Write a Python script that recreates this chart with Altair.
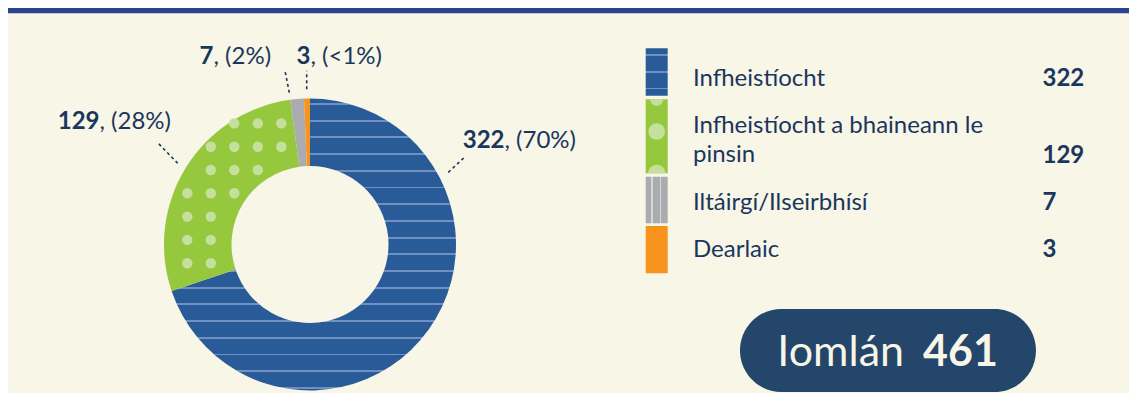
import math
import numpy as np
import pandas as pd
import altair as alt

# ---------------- data ----------------
categories = ["Infheistíocht", "Infheistíocht a bhaineann le pinsin",
              "Iltáirgí/Ilseirbhísí", "Dearlaic"]
legend_labels = ["Infheistíocht", "Infheistíocht a bhaineann le\npinsin",
                 "Iltáirgí/Ilseirbhísí", "Dearlaic"]
values = [322, 129, 7, 3]
pct_labels = [", (70%)", ", (28%)", ", (2%)", ", (<1%)"]
total_label = "Iomlán"
total_value = 461

# ---------------- styles ----------------
colors = ["#2A5B99", "#95C83D", "#AAACAF", "#F7941E"]
STRIPE_BLUE = "#6F90C0"
DOT_GREEN = "#C5E09C"
STRIPE_GRAY = "#D6D7D8"
NAVY = "#1B365D"
PILL = "#24466A"
BG = "#F7F6E7"
TOPBAR = "#2B4391"
FONT = "Lato"

# ---------------- layout (page pixels) ----------------
ORIGIN = 8
W, H = 1121, 385
CX, CY = 310, 244.5
R_OUT, R_IN = 146, 78.5
split_x = [504.5, 99.5, 213.5, 310.5]
label_base = [148.3, 129.0, 64.3, 64.3]
leader_from = [(448.3, 172.3), (177.7, 163.3), (289.3, 92.7), (306.7, 89.3)]
leader_to = [(464.0, 157.7), (158.3, 143.3), (285.0, 70.7), (306.7, 70.7)]
sw_x = (645.7, 667.7)
sw_top = [48.3, 99.3, 176.7, 226.0]
sw_bot = [95.7, 173.3, 223.3, 273.3]
lab_x, val_x = 693.0, 1042.5
lab_base = [85.7, 133.3, 210.0, 257.3]
val_base = [86.0, 162.7, 210.0, 257.3]
pill_box = (740, 1036, 309, 392)
pill_split = (904, 923)
pill_base = 366
STRIPE_START, STRIPE_STEP, STRIPE_W = 203.3, 16.7, 1.8
DOT_X0, DOT_DX, DOT_Y0, DOT_DY, DOT_R = 187.3, 23.5, 146.7, 23.3, 5.2

XS = alt.Scale(domain=[ORIGIN, ORIGIN + W], nice=False, zero=False)
YS = alt.Scale(domain=[ORIGIN, ORIGIN + H], nice=False, zero=False, reverse=True)


def X(f):
    return alt.X(f, type="quantitative", scale=XS, axis=None)


def Y(f):
    return alt.Y(f, type="quantitative", scale=YS, axis=None)


def stripes(start, end, positions, width, base, line, horizontal=True):
    span = end - start
    stops = [{"offset": 0, "color": base}]
    for p in positions:
        a = (p - start) / span
        b = (p - start + width) / span
        if a <= 0 or b >= 1:
            continue
        stops += [{"offset": a, "color": base}, {"offset": a, "color": line},
                  {"offset": b, "color": line}, {"offset": b, "color": base}]
    stops.append({"offset": 1, "color": base})
    g = {"gradient": "linear", "x1": 0, "y1": 0, "stops": stops}
    if horizontal:
        g.update({"x2": 0, "y2": 1})
    else:
        g.update({"x2": 1, "y2": 0})
    return g


total = sum(values)
df = pd.DataFrame({
    "category": categories,
    "legend": legend_labels,
    "value": values,
    "num": [str(v) for v in values],
    "pct": pct_labels,
    "order": list(range(len(values))),
})

# ---------------- top bar ----------------
bar = alt.Chart(pd.DataFrame({"x": [ORIGIN], "x2": [ORIGIN + W], "y": [ORIGIN], "y2": [13.3]})).mark_rect(
    color=TOPBAR).encode(x=X("x"), x2="x2", y=Y("y"), y2="y2")

# ---------------- donut ----------------
stripe_pos = [STRIPE_START + STRIPE_STEP * k for k in range(-8, 14)]
blue_grad = stripes(CY - R_OUT, CY + R_OUT, stripe_pos, STRIPE_W, colors[0], STRIPE_BLUE)

color_scale = alt.Scale(domain=categories, range=colors)
donut = alt.Chart(df).mark_arc(innerRadius=R_IN, outerRadius=R_OUT).encode(
    theta=alt.Theta("value:Q", stack=True),
    order=alt.Order("order:Q"),
    fill=alt.condition(alt.datum.category == categories[0], alt.value(blue_grad),
                       alt.Fill("category:N", scale=color_scale, legend=None)),
    x=alt.value(CX - ORIGIN), y=alt.value(CY - ORIGIN),
)

# dots pattern in green wedge
a0 = 2 * math.pi * values[0] / total
a1 = 2 * math.pi * (values[0] + values[1]) / total
dots = []
m = 2.5
for i in range(-3, 9):
    for j in range(-3, 9):
        px, py = DOT_X0 + DOT_DX * i, DOT_Y0 + DOT_DY * j
        dx, dy = px - CX, py - CY
        r = math.hypot(dx, dy)
        ang = math.atan2(dx, -dy) % (2 * math.pi)
        if not (R_IN + m <= r <= R_OUT - m):
            continue
        if not (a0 <= ang <= a1):
            continue
        if r * math.sin(min(ang - a0, math.pi / 2)) < m or r * math.sin(min(a1 - ang, math.pi / 2)) < m:
            continue
        dots.append({"x": px, "y": py})
dot_layer = alt.Chart(pd.DataFrame(dots)).mark_point(
    filled=True, color=DOT_GREEN, opacity=1, size=(2 * DOT_R) ** 2, shape="circle", strokeWidth=0
).encode(x=X("x"), y=Y("y"))

# leaders
lead_df = pd.DataFrame({
    "x": [p[0] for p in leader_from], "y": [p[1] for p in leader_from],
    "x2": [p[0] for p in leader_to], "y2": [p[1] for p in leader_to],
})
leaders = alt.Chart(lead_df).mark_rule(color=NAVY, strokeWidth=1.6, strokeDash=[3, 3]).encode(
    x=X("x"), y=Y("y"), x2="x2", y2="y2")

lab_df = df.assign(sx=split_x, by=label_base)
lab_num = alt.Chart(lab_df).mark_text(font=FONT, fontSize=24, fontWeight="bold", color=NAVY,
                                      align="right", baseline="alphabetic").encode(
    x=X("sx"), y=Y("by"), text="num:N")
lab_pct = alt.Chart(lab_df).mark_text(font=FONT, fontSize=24, color=NAVY,
                                      align="left", baseline="alphabetic").encode(
    x=X("sx"), y=Y("by"), text="pct:N")

# ---------------- legend ----------------
leg_df = df.assign(x=sw_x[0], x2=sw_x[1], y=sw_top, y2=sw_bot, lx=lab_x, ly=lab_base, vx=val_x, vy=val_base)
blue_sw = stripes(sw_top[0], sw_bot[0], [54.3, 71.0, 87.6], 1.6, colors[0], STRIPE_BLUE)
gray_sw = stripes(sw_x[0], sw_x[1], [651.2, 659.5], 1.6, colors[2], STRIPE_GRAY, horizontal=False)
swatches = alt.Chart(leg_df).mark_rect().encode(
    x=X("x"), x2="x2", y=Y("y"), y2="y2",
    fill=alt.Fill("category:N", scale=color_scale, legend=None, condition=[
        {"test": f"datum.category === '{categories[0]}'", "value": blue_sw},
        {"test": f"datum.category === '{categories[2]}'", "value": gray_sw},
    ]),
)
gx = (sw_x[0] + sw_x[1]) / 2
sw_dots = pd.DataFrame({
    "x": [gx, gx, gx],
    "y": [sw_top[1], 131.5, sw_bot[1]],
    "shape": ["M -1 0 A 1 1 0 0 0 1 0 Z", "circle", "M -1 0 A 1 1 0 0 1 1 0 Z"],
    "size": [170, 280, 300],
})
sw_dot_layer = alt.Chart(sw_dots).mark_point(filled=True, color=DOT_GREEN, opacity=1, strokeWidth=0).encode(
    x=X("x"), y=Y("y"),
    shape=alt.Shape("shape:N", scale=None),
    size=alt.Size("size:Q", scale=None),
)
leg_text = alt.Chart(leg_df).mark_text(font=FONT, fontSize=24, color=NAVY, align="left",
                                       baseline="alphabetic", lineBreak="\n", lineHeight=28.4).encode(
    x=X("lx"), y=Y("ly"), text="legend:N")
leg_val = alt.Chart(leg_df).mark_text(font=FONT, fontSize=24, fontWeight="bold", color=NAVY, align="left",
                                      baseline="alphabetic").encode(
    x=X("vx"), y=Y("vy"), text="num:N")

# ---------------- total pill ----------------
pill_df = pd.DataFrame({"x": [pill_box[0]], "x2": [pill_box[1]], "y": [pill_box[2]], "y2": [pill_box[3]],
                        "lab": [total_label], "val": [str(total_value)],
                        "lx": [pill_split[0]], "vx": [pill_split[1]], "ty": [pill_base]})
pill = alt.Chart(pill_df).mark_rect(color=PILL, cornerRadius=(pill_box[3] - pill_box[2]) / 2).encode(
    x=X("x"), x2="x2", y=Y("y"), y2="y2")
pill_lab = alt.Chart(pill_df).mark_text(font=FONT, fontSize=43, color=BG, align="right",
                                        baseline="alphabetic").encode(x=X("lx"), y=Y("ty"), text="lab:N")
pill_val = alt.Chart(pill_df).mark_text(font=FONT, fontSize=43, fontWeight="bold", color=BG, align="left",
                                        baseline="alphabetic").encode(x=X("vx"), y=Y("ty"), text="val:N")

chart = alt.layer(
    bar, donut, dot_layer, leaders, lab_num, lab_pct,
    swatches, sw_dot_layer, leg_text, leg_val, pill, pill_lab, pill_val,
).properties(
    width=W, height=H, padding=0, autosize="none", background=BG,
).configure_view(stroke=None)

chart.save("out.html", embed_options={"renderer": "svg", "actions": False})
